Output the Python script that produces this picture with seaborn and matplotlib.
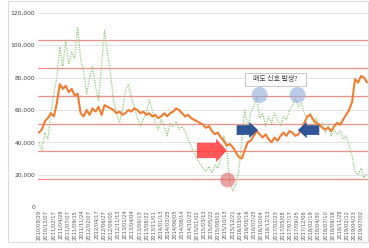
import numpy as np
import pandas as pd
import matplotlib
matplotlib.use("Agg")
import matplotlib.pyplot as plt
import seaborn as sns
from matplotlib.patches import FancyArrow, Ellipse, Rectangle

# ---- data ----
orange_values = [46000, 48000, 53000, 55000, 58000, 56000, 64000, 76000, 73000, 75000,
                 71000, 73000, 69000, 70000, 58000, 56000, 60000, 57000, 61000, 59000,
                 62000, 57000, 63000, 62000, 61000, 60000, 58000, 59000, 57000, 58000,
                 60000, 59000, 61000, 60000, 58000, 59000, 57000, 58000, 56000, 57000,
                 55000, 56000, 58000, 56000, 58000, 59000, 61000, 60000, 58000, 56000,
                 57000, 55000, 54000, 53000, 52000, 51000, 49000, 50000, 47000, 45000,
                 46000, 43000, 41000, 38000, 39000, 37000, 34000, 31000, 30000, 35000,
                 40000, 41000, 44000, 47000, 45000, 43000, 45000, 42000, 40000, 43000,
                 41000, 44000, 46000, 44000, 47000, 46000, 44000, 45000, 48000, 52000,
                 56000, 57000, 54000, 52000, 51000, 49000, 48000, 49000, 47000, 50000,
                 52000, 51000, 54000, 57000, 60000, 65000, 79000, 77000, 81000, 80000,
                 77000]
green_values = [40000, 35000, 46000, 42000, 58000, 70000, 80000, 99000, 87000, 103000,
                88000, 96000, 92000, 111000, 91000, 84000, 70000, 80000, 87000, 74000,
                66000, 88000, 109000, 95000, 83000, 66000, 58000, 52000, 60000, 72000,
                76000, 68000, 62000, 55000, 50000, 54000, 58000, 66000, 60000, 52000,
                48000, 54000, 50000, 44000, 52000, 50000, 53000, 48000, 50000, 47000,
                42000, 38000, 34000, 30000, 27000, 24000, 22000, 25000, 21000, 26000,
                24000, 30000, 44000, 36000, 15000, 10000, 14000, 22000, 40000, 60000,
                50000, 58000, 62000, 68000, 55000, 58000, 50000, 56000, 52000, 58000,
                54000, 50000, 56000, 54000, 60000, 63000, 67000, 62000, 64000, 58000,
                55000, 58000, 52000, 55000, 50000, 52000, 46000, 50000, 44000, 48000,
                45000, 47000, 42000, 44000, 38000, 32000, 22000, 20000, 24000, 18000,
                21000]
band_levels = [17200, 34400, 51600, 68800, 86000, 103200]
tick_labels = ["2010/09/29", "2010/12/07", "2011/02/17", "2011/04/28", "2011/07/07",
               "2011/09/15", "2011/11/24", "2012/02/07", "2012/04/17", "2012/06/27",
               "2012/09/05", "2012/11/13", "2013/01/24", "2013/04/04", "2013/06/13",
               "2013/08/22", "2013/11/01", "2014/01/13", "2014/03/25", "2014/06/05",
               "2014/08/14", "2014/10/23", "2015/01/02", "2015/03/13", "2015/05/22",
               "2015/08/03", "2015/10/13", "2015/12/21", "2016/03/04", "2016/05/16",
               "2016/07/25", "2016/10/04", "2016/12/13", "2017/02/23", "2017/05/08",
               "2017/07/17", "2017/09/25", "2017/12/06", "2018/02/19", "2018/04/30",
               "2018/07/10", "2018/09/18", "2018/11/28", "2019/02/12", "2019/04/23",
               "2019/07/02"]
annotation_text = "매도 신호 발생?"

sns.set_theme(style="white")
plt.rcParams['font.family'] = ['DejaVu Sans', 'Noto Sans CJK KR']

df = pd.DataFrame({"idx": np.arange(len(orange_values)),
                   "orange": orange_values, "green": green_values})

fig = plt.figure(figsize=(3.69, 2.48), dpi=100)
fig.patches.append(Rectangle((0.022, 0.025), 0.975, 0.97, transform=fig.transFigure,
                             fill=False, edgecolor="#d9d9d9", lw=0.8))
ax = fig.add_axes([0.103, 0.165, 0.894, 0.783])

n = len(orange_values)
ax.set_xlim(-0.3, n - 0.7)
ax.set_ylim(0, 120000)
yt = np.arange(0, 120001, 20000)
ax.set_yticks(yt)
ax.set_yticklabels([f"{v:,}" for v in yt], fontsize=4.3, color="#404040")
for v in yt[1:]:
    ax.axhline(v, color="#e3e3e3", lw=0.7, zorder=0)
for v in band_levels:
    ax.axhline(v, color="#ee8f86", lw=0.9, zorder=1)

sns.lineplot(data=df, x="idx", y="green", ax=ax, color="#93c77a", lw=0.9,
             linestyle=(0, (1, 1)), zorder=2)
sns.lineplot(data=df, x="idx", y="orange", ax=ax, color="#ed7d31", lw=1.5, zorder=3)

step = (n - 1) * (324 / 330) / (len(tick_labels) - 1)
ax.set_xticks(np.arange(len(tick_labels)) * step)
ax.set_xticklabels(tick_labels, rotation=90, fontsize=3.7, color="#595959")
ax.tick_params(axis="both", length=0, pad=2)
ax.set_xlabel("")
ax.set_ylabel("")
for s in ax.spines.values():
    s.set_visible(False)
ax.axhline(0, color="#d9d9d9", lw=0.7)

# ---- annotations ----
ax.add_patch(FancyArrow(53, 35000, 10, 0, width=9500, head_width=14500, head_length=3.6,
                        length_includes_head=True, color="#ff3b3b", alpha=0.85, lw=0, zorder=4))
ax.add_patch(Ellipse((63.3, 16700), 5.0, 9200, color="#e06666", alpha=0.6, lw=0, zorder=4))
ax.add_patch(FancyArrow(66.3, 47600, 7.2, 0, width=6000, head_width=10000, head_length=3,
                        length_includes_head=True, color="#2f5597", lw=0, zorder=5))
ax.add_patch(FancyArrow(94, 47600, -7.2, 0, width=6000, head_width=10000, head_length=3,
                        length_includes_head=True, color="#2f5597", lw=0, zorder=5))
ax.add_patch(Ellipse((74, 69300), 5.4, 9900, color="#8faadc", alpha=0.6, lw=0, zorder=5))
ax.add_patch(Ellipse((86.7, 69300), 5.4, 9900, color="#8faadc", alpha=0.6, lw=0, zorder=5))
ax.add_patch(Rectangle((79.3 - 10.2, 79000 - 4000), 20.4, 8000, fc="white", ec="#bfbfbf",
                       lw=0.6, zorder=6))
ax.text(79.3, 79000, annotation_text, ha="center", va="center", fontsize=5,
        family=['Noto Sans CJK KR', 'DejaVu Sans'], color="#404040", zorder=7)

fig.savefig("out.png", dpi=100)
